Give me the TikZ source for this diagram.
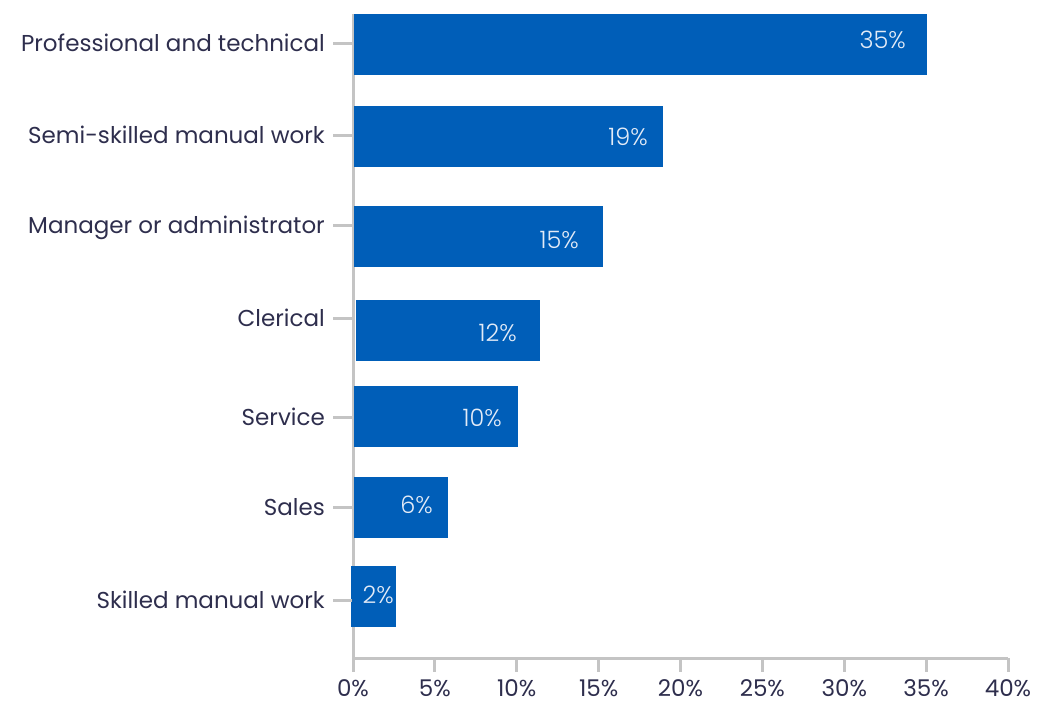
\documentclass[tikz,border=0pt]{standalone}
\usepackage{fontspec}
\setmainfont{Poppins}
\newfontfamily\lightfont{Poppins Light}
\definecolor{barblue}{HTML}{005EB8}
\definecolor{textnavy}{HTML}{2E2E4D}
\definecolor{axisgrey}{HTML}{C4C4C4}
\definecolor{pctwhite}{HTML}{E3EBF7}

\begin{document}
\begin{tikzpicture}[x=1pt,y=-1pt,
            cat label/.style={anchor=base east,inner sep=0pt,text=textnavy,font=\fontsize{23}{27}\selectfont},
            pct label/.style={anchor=base east,inner sep=0pt,text=pctwhite,font=\lightfont\fontsize{24}{28}\selectfont},
            tick label/.style={anchor=base,inner sep=0pt,text=textnavy,font=\fontsize{23}{27}\selectfont},
            axis line/.style={draw=axisgrey,line width=3pt},
            bar/.style={fill=barblue}]

        \useasboundingbox (0,0) rectangle (1040,705);

        % Draw axes
        \draw[axis line] (353,14) -- (353,658) -- (1008,658);
        \foreach \v in {0,5,...,40} {
            \draw[axis line] (353+16.375*\v,658) -- ++(0,14);
            \node[tick label] (tick\v) at (353+16.375*\v,696) {\v\%};
        }

        % Define bars and their labels
        \foreach \top/\left/\right/\tick/\lx/\ly/\name/\val [count=\i] in {
            14/354/927/43/906/48/Professional and technical/35,
            106/354/663/135/648/145/Semi-skilled manual work/19,
            206/354/603/225/579/248/Manager or administrator/15,
            300/356/540/318/517/341/Clerical/12,
            386/354/518/417/502/426/Service/10,
            477/354/448/507/433/513/Sales/6,
            566/351/396/600/394/603/Skilled manual work/2} {
            \fill[bar] (\left,\top) rectangle (\right,\top+61);
            \node[pct label] (pct\i) at (\lx,\ly) {\val\%};
            \draw[axis line] (333,\tick) -- (352,\tick);
            \node[cat label] (cat\i) at (325,\tick+8) {\name};
        }

        \end{tikzpicture}
\end{document}
